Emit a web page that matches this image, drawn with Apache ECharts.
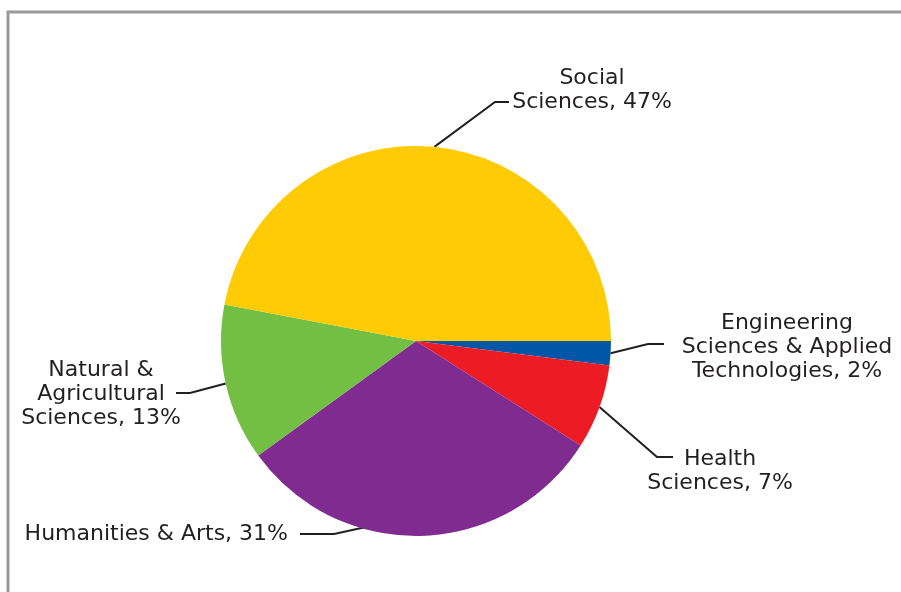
<!DOCTYPE html>
<html>
<head>
<meta charset="utf-8">
<script src="https://cdn.jsdelivr.net/npm/echarts@6/dist/echarts.min.js"></script>
<style>
  html, body { margin: 0; padding: 0; background: #fff; }
  #chart { width: 901px; height: 592px; }
</style>
</head>
<body>
<div id="chart"></div>
<script>
// slices in drawing order, clockwise from 3 o'clock
var categories = [
    'Engineering Sciences & Applied Technologies',
    'Health Sciences',
    'Humanities & Arts',
    'Natural & Agricultural Sciences',
    'Social Sciences'
];
var shares = [2, 7, 31, 13, 47];
var labelTexts = [
    'Engineering\nSciences & Applied\nTechnologies, 2%',
    'Health\nSciences, 7%',
    'Humanities & Arts, 31%',
    'Natural &\nAgricultural\nSciences, 13%',
    'Social\nSciences, 47%'
];
var colors = ['#0057a8', '#ed1c24', '#7f2b8f', '#72bf44', '#ffcb05'];

// where each label sits and how its leader line bends
var labelSpots = [
    { x: 787, y: 347, align: 'center', elbow: [648, 344], end: [664, 344] },
    { x: 720, y: 471, align: 'center', elbow: [657, 457], end: [673, 457] },
    { x: 288, y: 534, align: 'right', start: [366, 527], elbow: [334, 534], end: [300, 534] },
    { x: 101, y: 394, align: 'center', elbow: [190, 393], end: [176, 393] },
    { x: 592, y: 90, align: 'center', elbow: [495, 102], end: [509, 102] }
];

var data = categories.map(function (name, i) {
    return {
        name: name,
        value: shares[i],
        itemStyle: { color: colors[i] },
        label: { formatter: labelTexts[i] }
    };
});

var chart = echarts.init(document.getElementById('chart'));
chart.setOption({
    animation: false,
    graphic: [{
        type: 'polyline',
        shape: { points: [[8, 592], [8, 12], [901, 12]] },
        style: { stroke: '#9a9a9a', lineWidth: 3, fill: null }
    }],
    series: [{
        type: 'pie',
        center: [416, 341],
        radius: 195,
        startAngle: 0,
        clockwise: true,
        avoidLabelOverlap: false,
        data: data,
        label: {
            show: true,
            position: 'outside',
            fontFamily: 'DejaVu Sans',
            fontSize: 22,
            lineHeight: 24,
            color: '#231f20',
            align: 'center'
        },
        labelLine: {
            show: true,
            length: 20,
            length2: 15,
            lineStyle: { color: '#231f20', width: 2 }
        },
        emphasis: { disabled: true },
        labelLayout: function (params) {
            var s = labelSpots[params.dataIndex];
            var start = s.start || params.labelLinePoints[0];
            return {
                x: s.x,
                y: s.y,
                align: s.align,
                verticalAlign: 'middle',
                labelLinePoints: [start, s.elbow, s.end]
            };
        }
    }]
});
</script>
</body>
</html>
